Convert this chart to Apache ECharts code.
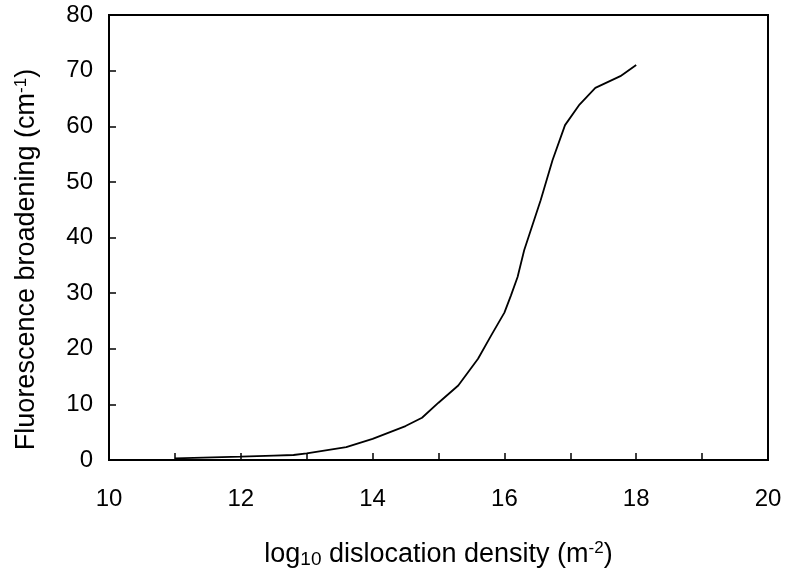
<!DOCTYPE html>
<html><head><meta charset="utf-8">
<script src="https://cdn.jsdelivr.net/npm/echarts@6/dist/echarts.min.js"></script>
<style>html,body{margin:0;padding:0;background:#fff}#c{width:787px;height:583px}</style>
</head><body><div id="c"></div>
<script>
const logDensity = [11, 12, 12.5, 12.8, 13, 13.6, 14, 14.5, 14.75, 15, 15.3, 15.6, 15.8, 16, 16.1, 16.2, 16.3, 16.55, 16.73, 16.92, 17.14, 17.38, 17.76, 18];
const broadening = [0.3, 0.6, 0.8, 0.9, 1.2, 2.3, 3.8, 6.1, 7.6, 10.3, 13.4, 18.2, 22.4, 26.5, 29.6, 32.9, 37.7, 46.7, 53.9, 60.2, 63.9, 66.9, 69.0, 71.0];
const xTicks = [10, 12, 14, 16, 18, 20];
const yTicks = [0, 10, 20, 30, 40, 50, 60, 70, 80];

const chart = echarts.init(document.getElementById('c'), null, {renderer: 'canvas'});
const font = 'Liberation Sans, Arial, sans-serif';
chart.setOption({
  animation: false,
  backgroundColor: '#fff',
  grid: {left: 109, right: 19, top: 15, bottom: 123, show: true, borderColor: '#000', borderWidth: 2, backgroundColor: 'transparent'},
  xAxis: {
    type: 'value', min: 10, max: 20, interval: 1,
    axisLine: {show: true, lineStyle: {color: '#000', width: 2}},
    axisTick: {show: true, inside: true, length: 7, lineStyle: {color: '#000', width: 1.5}},
    splitLine: {show: false},
    axisLabel: {color: '#000', fontFamily: font, fontSize: 24, margin: 27,
      formatter: v => xTicks.includes(v) ? String(v) : ''},
    name: '{n|log}{s|10}{n| dislocation density (m}{p|-2}{n|)}',
    nameLocation: 'middle', nameGap: 80,
    nameTextStyle: {rich: {
      n: {fontFamily: font, fontSize: 27, color: '#000'},
      s: {fontFamily: font, fontSize: 19, color: '#000', verticalAlign: 'bottom', padding: [10, 0, 0, 0]},
      p: {fontFamily: font, fontSize: 17, color: '#000', verticalAlign: 'top', padding: [0, 0, 10, 0]}
    }}
  },
  yAxis: {
    type: 'value', min: 0, max: 80, interval: 10,
    axisLine: {show: true, lineStyle: {color: '#000', width: 2}},
    axisTick: {show: true, inside: true, length: 7, lineStyle: {color: '#000', width: 1.5}},
    splitLine: {show: false},
    axisLabel: {color: '#000', fontFamily: font, fontSize: 24, margin: 16,
      formatter: v => yTicks.includes(v) ? String(v) : ''},
    name: '{n|Fluorescence broadening (cm}{p|-1}{n|)}',
    nameLocation: 'middle', nameGap: 69,
    nameTextStyle: {padding: [0, 44, 0, 0], rich: {
      n: {fontFamily: font, fontSize: 27, color: '#000'},
      p: {fontFamily: font, fontSize: 17, color: '#000', verticalAlign: 'top', padding: [0, 0, 10, 0]}
    }}
  },
  series: [{
    type: 'line', data: logDensity.map((x, i) => [x, broadening[i]]),
    showSymbol: false, smooth: false,
    lineStyle: {color: '#000', width: 1.8}
  }]
});
</script></body></html>
